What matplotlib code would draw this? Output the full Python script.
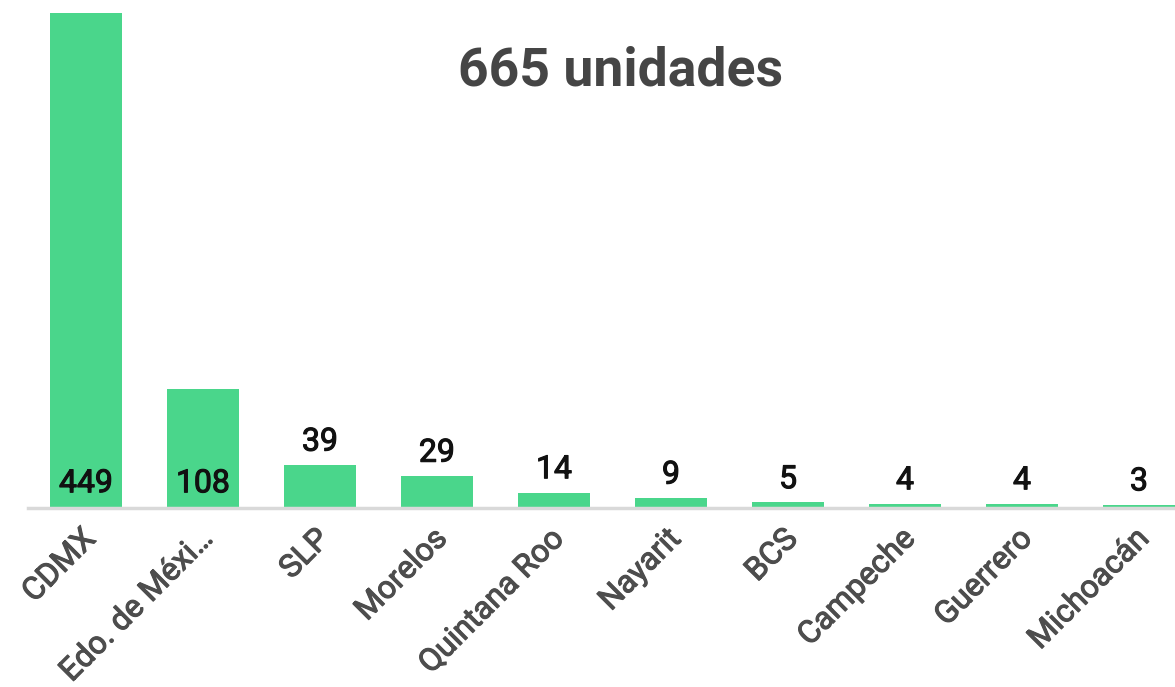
import matplotlib
matplotlib.use("Agg")
import matplotlib.pyplot as plt
import matplotlib.patheffects as pe

plt.rcParams['font.family'] = ['Roboto', 'DejaVu Sans']

estados = ["CDMX", "Edo. de Méxi…", "SLP", "Morelos", "Quintana Roo",
           "Nayarit", "BCS", "Campeche", "Guerrero", "Michoacán"]
unidades = [449, 108, 39, 29, 14, 9, 5, 4, 4, 3]
titulo = "665 unidades"

W, H, DPI = 1175, 687, 100
fig = plt.figure(figsize=(W / DPI, H / DPI), dpi=DPI)

# axes runs past the right edge on purpose: the last bar is cut off in the original
left, right = 27.5, 1197.5
top, base = 13, 508
ax = fig.add_axes([left / W, (H - base) / H, (right - left) / W, (base - top) / H])

x = range(len(estados))
bars = ax.bar(x, unidades, width=0.615, color="#4ad68b", zorder=2)
ax.set_xlim(-0.5, len(estados) - 0.5)
ax.set_ylim(0, max(unidades))

for s in ["top", "right", "left"]:
    ax.spines[s].set_visible(False)
ax.spines["bottom"].set_color("#d9d9d9")
ax.spines["bottom"].set_linewidth(2.5)
ax.spines["bottom"].set_zorder(3)
ax.set_yticks([])
ax.set_xticks([])

# roboto medium is not around, so thicken the regular weight a bit
grey_fx = [pe.withStroke(linewidth=0.8, foreground="#4d4d4d")]
black_fx = [pe.withStroke(linewidth=0.8, foreground="#111111")]

# category labels drawn by hand so they can sit a touch right of the bar centre
for i, nombre in enumerate(estados):
    ax.annotate(nombre, (i, 0), xytext=(3.6, -19), textcoords="offset points",
                rotation=45, ha="right", va="center", rotation_mode="anchor",
                fontsize=22.8, color="#4d4d4d", path_effects=grey_fx,
                annotation_clip=False)

for i, v in enumerate(unidades):
    y0, dy = (0, 7) if v > 100 else (v, 6)
    ax.annotate(str(v), (i, y0), xytext=(0, dy), textcoords="offset points",
                ha="center", va="bottom", fontsize=23, color="#111111",
                zorder=4, path_effects=black_fx)

fig.text(621 / W, 1 - 85 / H, titulo, ha="center", va="baseline",
         fontsize=38.5, fontweight="bold", color="#454545")

fig.savefig("out.png", dpi=DPI)
